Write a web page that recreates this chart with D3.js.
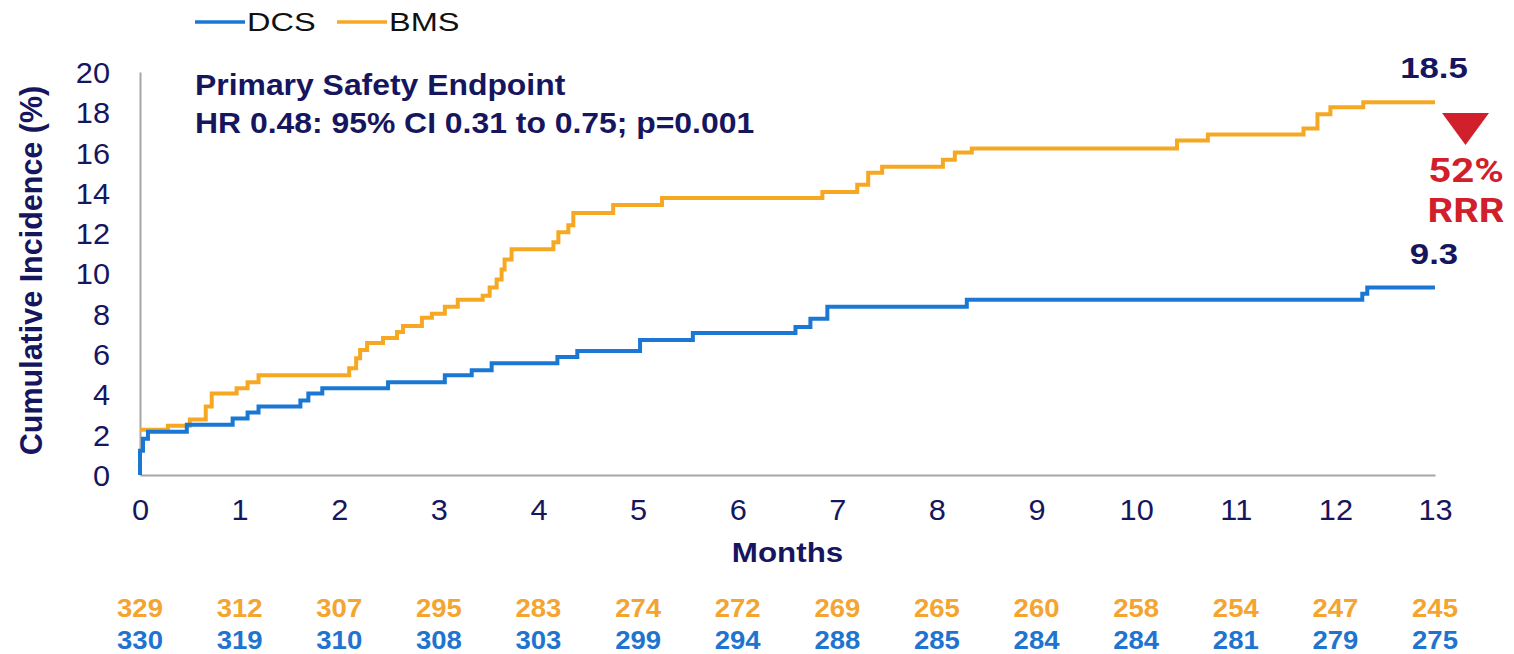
<!DOCTYPE html>
<html>
<head>
<meta charset="utf-8">
<script src="https://cdn.jsdelivr.net/npm/d3@7"></script>
<style>
  html, body { margin: 0; padding: 0; background: #fff; }
  svg { display: block; font-family: "Liberation Sans", Arial, sans-serif; }
</style>
</head>
<body>
<div id="vis"></div>
<script>
// Curva de incidencia acumulada DCS vs BMS + pacientes en riesgo
const width = 1514, height = 654;
const margin = { left: 140, right: 79, top: 72, bottom: 179 };

// Tiempos de cada escalón (meses) y valor acumulado (%)
const DCS_T = [0, 0.03, 0.08, 0.47, 0.93, 1.08, 1.19, 1.61, 1.69, 1.83, 2.49, 3.06, 3.33, 3.53, 4.19, 4.39, 5.02, 5.55, 6.58, 6.73, 6.9, 8.3, 12.27, 12.32];
const DCS_V = [1.2, 1.8, 2.15, 2.5, 2.8, 3.1, 3.4, 3.7, 4.05, 4.3, 4.6, 4.95, 5.2, 5.55, 5.85, 6.15, 6.7, 7.05, 7.35, 7.75, 8.35, 8.7, 9.0, 9.3];

const BMS_T = [0, 0.28, 0.5, 0.66, 0.72, 0.97, 1.08, 1.19, 2.1, 2.17, 2.21, 2.28, 2.44, 2.58, 2.64, 2.83, 2.93, 3.06, 3.19, 3.44, 3.51, 3.58, 3.63, 3.66, 3.73, 4.15, 4.2, 4.3, 4.35, 4.75, 5.24, 6.85, 7.2, 7.31, 7.45, 8.06, 8.18, 8.35, 10.41, 10.72, 11.68, 11.82, 11.95, 12.28];
const BMS_V = [2.25, 2.45, 2.75, 3.4, 4.05, 4.3, 4.6, 4.95, 5.3, 5.8, 6.2, 6.55, 6.8, 7.1, 7.4, 7.8, 8.0, 8.35, 8.7, 8.9, 9.3, 9.7, 10.2, 10.7, 11.2, 11.55, 12.05, 12.4, 13.0, 13.4, 13.75, 14.05, 14.4, 15.0, 15.3, 15.65, 16.0, 16.2, 16.6, 16.9, 17.2, 17.9, 18.25, 18.5];

const END_MONTH = 13;
const MONTHS = d3.range(0, 14);
const Y_TICKS = d3.range(0, 21, 2);

// Pacientes en riesgo
const AT_RISK_BMS = [329, 312, 307, 295, 283, 274, 272, 269, 265, 260, 258, 254, 247, 245];
const AT_RISK_DCS = [330, 319, 310, 308, 303, 299, 294, 288, 285, 284, 284, 281, 279, 275];

const FINAL_LABELS = [
  { name: "BMS", value: 18.5, text: "18.5" },
  { name: "DCS", value: 9.3, text: "9.3" }
];
const RRR_LINES = ["52%", "RRR"];

const C_DCS = "#1a78d4", C_BMS = "#f7a823", NAVY = "#16165e", RED = "#d11f2b";

const svg = d3.select("#vis").append("svg")
  .attr("width", width).attr("height", height)
  .attr("viewBox", [0, 0, width, height]);

const x = d3.scaleLinear().domain([0, END_MONTH]).range([margin.left, width - margin.right]);
const y = d3.scaleLinear().domain([0, 20]).range([height - margin.bottom, margin.top]);

// el original viene algo estirado en horizontal: texto con scaleX
function sText(parent, px, py, k, txt) {
  return parent.append("text")
    .attr("transform", `translate(${px},${py}) scale(${k},1)`)
    .text(txt);
}

// ====== EJES ======
const gx = svg.append("g")
  .attr("transform", `translate(0,${y(0)})`)
  .call(d3.axisBottom(x).tickValues(MONTHS).tickSize(0).tickPadding(24).tickFormat(d3.format("d")));
const gy = svg.append("g")
  .attr("transform", `translate(${x(0)},0)`)
  .call(d3.axisLeft(y).tickValues(Y_TICKS).tickSize(0).tickPadding(0));

[gx, gy].forEach(g => {
  g.select(".domain").attr("stroke", "#a6a6a6").attr("stroke-width", 2);
  g.selectAll("text")
    .attr("font-family", "'Liberation Sans', Arial, sans-serif")
    .attr("font-size", 29).attr("fill", NAVY);
});
gx.selectAll("text").attr("transform", "scale(1.06,1)");
gy.selectAll("text").attr("x", null).attr("dy", "0.36em")
  .attr("transform", "translate(-30,0) scale(1.06,1)");

sText(svg, x(6.5), 562, 1.12, "Months")
  .attr("text-anchor", "middle")
  .attr("font-size", 28).attr("font-weight", "bold").attr("fill", NAVY);

svg.append("text")
  .attr("transform", `translate(42,${y(10) - 3}) rotate(-90)`)
  .attr("text-anchor", "middle")
  .attr("font-size", 30.5).attr("font-weight", "bold").attr("fill", NAVY)
  .text("Cumulative Incidence (%)");

// ====== CURVAS ======
const line = d3.line()
  .x(d => x(d[0])).y(d => y(d[1]))
  .curve(d3.curveStepAfter);

function series(T, V, startAtZero) {
  const pts = T.map((t, i) => [t, V[i]]);
  if (startAtZero) pts.unshift([0, 0]);
  pts.push([END_MONTH, V[V.length - 1]]);
  return pts;
}

svg.append("path")
  .datum(series(BMS_T, BMS_V, false))
  .attr("fill", "none").attr("stroke", C_BMS).attr("stroke-width", 4)
  .attr("d", line);

svg.append("path")
  .datum(series(DCS_T, DCS_V, true))
  .attr("fill", "none").attr("stroke", C_DCS).attr("stroke-width", 4)
  .attr("d", line);

// ====== TEXTOS ======
const TITLE = ["Primary Safety Endpoint", "HR 0.48: 95% CI 0.31 to 0.75; p=0.001"];
TITLE.forEach((t, i) => {
  sText(svg, 195, 95 + i * 38, 1.1, t)
    .attr("font-size", 29).attr("font-weight", "bold").attr("fill", NAVY);
});

FINAL_LABELS.forEach(d => {
  sText(svg, 1434, y(d.value) - 24, 1.16, d.text)
    .attr("text-anchor", "middle")
    .attr("font-size", 30).attr("font-weight", "bold").attr("fill", NAVY);
});

// flecha de reducción
svg.append("path")
  .attr("d", d3.line()([[1442, 113], [1489, 113], [1465.5, 145]]) + "Z")
  .attr("fill", RED);

RRR_LINES.forEach((t, i) => {
  sText(svg, 1466, 182 + i * 40, 1.18, t)
    .attr("text-anchor", "middle")
    .attr("font-family", "Roboto, sans-serif")
    .attr("font-size", 34).attr("font-weight", "bold").attr("fill", RED);
});

// ====== LEYENDA ======
const LEGEND = [
  { name: "DCS", color: C_DCS, x0: 195 },
  { name: "BMS", color: C_BMS, x0: 337 }
];
LEGEND.forEach(d => {
  svg.append("line")
    .attr("x1", d.x0).attr("x2", d.x0 + 50).attr("y1", 22).attr("y2", 22)
    .attr("stroke", d.color).attr("stroke-width", 3.5);
  sText(svg, d.x0 + 52, 31, 1.25, d.name)
    .attr("font-size", 26).attr("fill", "#111");
});

// ====== EN RIESGO ======
const risk = [
  { vals: AT_RISK_BMS, color: "#f4a431", yy: 617 },
  { vals: AT_RISK_DCS, color: "#1f74cf", yy: 649 }
];
risk.forEach(r => {
  r.vals.forEach((v, i) => {
    sText(svg, x(MONTHS[i]), r.yy, 1.1, v)
      .attr("text-anchor", "middle")
      .attr("font-size", 25).attr("font-weight", "bold").attr("fill", r.color);
  });
});
</script>
</body>
</html>
